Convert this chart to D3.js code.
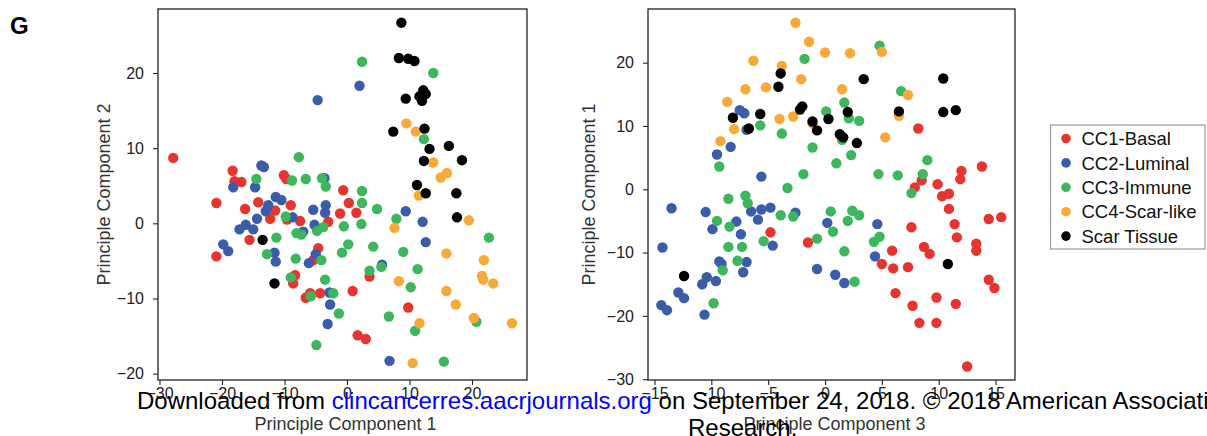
<!DOCTYPE html>
<html>
<head>
<meta charset="utf-8">
<script src="https://cdn.jsdelivr.net/npm/d3@7"></script>
<style>
    body { margin: 0; background: #fff; }
    svg text { font-family: "Liberation Sans", Arial, sans-serif; }
</style>
</head>
<body>
<div id="chart"></div>
<script>
// Groups (legend order) and colours
const groups = ["CC1-Basal", "CC2-Luminal", "CC3-Immune", "CC4-Scar-like", "Scar Tissue"];
const groupColors = ["#e8342f", "#3a5ca9", "#3db65d", "#f8aa38", "#000000"];

// Panel 1: Principle Component 1 (x) vs Principle Component 2 (y)
const basalPc12 = [[-27.8,8.7],[-18.3,7.0],[-18.0,5.6],[-16.9,5.5],[-20.9,2.7],[-16.3,1.9],[-14.2,2.8],[-10.1,6.4],[-9.7,5.9],[-11.5,1.7],[-12.3,0.6],[-9.0,2.4],[-9.6,0.5],[-7.5,0.3],[-0.6,4.4],[0.3,2.7],[-1.1,1.3],[1.5,1.4],[-3.0,0.2],[-15.6,-2.2],[-20.9,-4.4],[-4.6,-3.3],[-5.4,-4.9],[-8.3,-6.9],[-8.6,-8.0],[3.6,-7.1],[-6.6,-9.9],[-5.9,-9.3],[-4.3,-9.3],[0.9,-9.0],[9.8,-11.2],[1.7,-14.9],[3.0,-15.4]];
const luminalPc12 = [[-4.7,16.4],[2.0,18.3],[-13.7,7.7],[-13.3,7.5],[-18.2,4.8],[-14.7,4.8],[-11.4,3.5],[-10.5,3.1],[-12.6,2.4],[-13.0,1.6],[-14.4,0.6],[-16.2,-0.2],[-17.2,-0.8],[-15.0,-0.8],[-19.8,-2.8],[-19.0,-3.7],[-11.6,-3.9],[-11.4,-5.1],[-8.7,0.8],[-5.4,1.8],[-3.4,2.4],[-3.5,1.4],[-3.6,6.0],[-5.2,-0.2],[-7.0,-1.1],[-5.0,-4.1],[-6.1,-5.3],[-2.8,-9.2],[-2.7,-10.8],[-3.1,-13.4],[5.6,-5.5],[9.4,1.6],[12.1,0.2],[12.6,-2.5],[6.8,-18.3]];
const immunePc12 = [[2.4,21.5],[13.8,20.0],[12.3,11.2],[-7.7,8.8],[-14.5,5.9],[-8.8,5.7],[-6.6,5.9],[-4.0,6.0],[-3.4,4.9],[2.4,4.3],[2.4,2.7],[4.8,1.9],[7.9,0.6],[-0.5,-0.4],[2.3,-0.1],[-3.8,-0.5],[-4.8,-1.0],[-8.1,-1.3],[-7.3,-1.5],[-9.8,0.9],[-11.3,-1.9],[-12.8,-4.1],[0.2,-2.8],[4.2,-3.1],[-0.8,-3.9],[9.0,-3.8],[-8.2,-4.7],[-4.1,-4.9],[5.5,-5.8],[11.3,-6.1],[3.6,-6.3],[-9.0,-7.2],[-3.5,-7.5],[10.2,-8.5],[-5.8,-9.7],[-2.2,-9.3],[-1.3,-12.0],[6.7,-12.4],[10.9,-14.3],[20.7,-13.1],[22.7,-1.9],[-4.9,-16.2],[15.5,-18.4]];
const scarLikePc12 = [[9.5,13.3],[11.0,12.2],[13.8,8.1],[15.0,6.1],[16.0,6.7],[11.5,3.7],[19.5,0.4],[7.6,-0.6],[15.9,-4.0],[21.9,-4.9],[21.6,-7.0],[21.8,-7.5],[23.4,-8.0],[8.3,-7.7],[15.9,-9.0],[17.4,-10.8],[20.3,-12.6],[11.6,-13.3],[26.4,-13.3],[10.5,-18.6]];
const scarPc12 = [[8.7,26.7],[8.3,22.0],[9.8,21.9],[10.8,21.6],[9.4,16.6],[11.6,16.9],[12.2,17.7],[12.6,17.2],[12.0,16.3],[7.4,12.2],[12.4,12.6],[13.2,9.9],[16.3,10.3],[12.3,8.3],[18.4,8.4],[11.2,5.1],[12.6,4.0],[17.5,4.0],[17.6,0.8],[-13.5,-2.2],[-11.6,-8.0]];

// Panel 2: Principle Component 3 (x) vs Principle Component 1 (y)
const basalPc31 = [[8.2,9.6],[13.8,3.6],[12.0,2.9],[11.9,1.6],[8.5,1.4],[7.9,0.3],[9.9,0.8],[10.3,-1.1],[10.9,-0.7],[10.9,-3.1],[11.4,-5.5],[11.6,-7.6],[14.4,-4.7],[15.5,-4.4],[7.6,-6.0],[-4.8,-6.8],[-1.5,-8.4],[5.9,-9.7],[8.7,-9.1],[9.2,-10.2],[13.3,-8.6],[13.3,-9.7],[5.0,-11.8],[6.0,-12.5],[7.3,-12.3],[6.2,-16.4],[7.7,-18.4],[8.3,-21.1],[9.8,-21.1],[9.8,-17.1],[11.5,-18.1],[14.4,-14.3],[14.9,-15.6],[12.5,-28.0]];
const luminalPc31 = [[-13.5,-3.0],[-14.3,-9.2],[-14.4,-18.3],[-13.9,-19.1],[-12.9,-16.3],[-12.4,-17.2],[-10.5,-3.6],[-9.9,-6.3],[-10.8,-15.0],[-10.4,-13.9],[-9.6,-14.5],[-10.6,-19.8],[-9.5,5.5],[-8.3,6.7],[-9.3,-11.4],[-9.1,-11.8],[-7.8,-5.1],[-7.4,-7.1],[-7.2,-13.1],[-6.9,-11.5],[-7.5,12.5],[-7.1,12.0],[-6.9,9.4],[-6.5,-3.5],[-5.9,-4.8],[-5.6,-3.2],[-5.6,2.0],[-4.8,-2.9],[-4.6,-8.9],[-2.6,-3.7],[0.2,-5.3],[-0.7,-12.6],[0.9,-13.5],[1.7,-14.8],[4.6,-5.5],[4.4,-10.6]];
const immunePc31 = [[4.8,22.7],[-1.8,20.6],[6.7,15.5],[1.7,13.7],[0.1,12.3],[2.1,11.2],[3.0,10.8],[-5.7,10.1],[-3.8,8.8],[-1.1,6.6],[1.5,7.8],[2.3,5.4],[1.0,4.1],[9.0,4.6],[-9.3,3.6],[-1.9,2.4],[4.7,2.4],[6.4,2.2],[8.6,2.4],[7.6,-0.6],[-3.3,0.2],[-8.5,-1.5],[-7.0,-1.0],[-6.8,-2.2],[-3.9,-4.1],[-2.8,-4.3],[0.5,-3.5],[2.4,-3.4],[3.0,-4.1],[-9.5,-5.0],[-8.4,-5.9],[2.0,-5.0],[0.7,-6.7],[-8.5,-9.1],[-7.3,-9.1],[-5.4,-8.2],[-0.7,-7.8],[4.3,-8.3],[4.8,-7.5],[-7.7,-11.3],[-9.0,-12.8],[1.7,-9.8],[2.6,-14.6],[-9.8,-18.0]];
const scarLikePc31 = [[-2.6,26.3],[-1.4,23.3],[-6.3,20.3],[-3.8,19.5],[0.0,21.6],[2.2,21.5],[5.0,21.7],[-7.0,15.8],[-5.2,16.1],[-2.1,17.4],[1.5,15.8],[-8.6,13.8],[7.3,14.9],[-8.0,9.5],[-9.2,7.6],[-4.0,11.1],[-2.8,11.5],[-1.1,10.4],[6.5,11.6],[5.3,8.2]];
const scarPc31 = [[-12.4,-13.7],[-8.1,11.3],[-6.7,9.6],[-5.7,11.9],[-4.1,16.2],[-3.9,18.3],[-2.2,12.6],[-2.0,13.1],[-1.1,10.7],[-0.7,9.3],[0.3,11.1],[1.3,8.7],[1.6,8.2],[2.0,12.2],[2.8,7.3],[3.4,17.4],[6.5,12.3],[10.4,17.5],[10.4,12.2],[11.5,12.5],[10.8,-11.8]];

// Tick values
const pc1Ticks = [-30, -20, -10, 0, 10, 20];
const pc2Ticks = [-20, -10, 0, 10, 20];
const pc3Ticks = [-15, -10, -5, 0, 5, 10, 15];
const pc1TicksRight = [-30, -20, -10, 0, 10, 20];

class ScatterVis {
    constructor(svg, config, series) {
        this.svg = svg;
        this.config = config;
        this.series = series;

        this.initVis();
    }

    initVis() {
        let vis = this;
        let c = vis.config;

        vis.g = vis.svg.append("g");

        //Scales
        vis.x = d3.scaleLinear().domain(c.xDomain).range([c.left, c.right]);
        vis.y = d3.scaleLinear().domain(c.yDomain).range([c.bottom, c.top]);

        //Axes (no domain line, the frame is drawn separately)
        vis.g.append("g")
            .attr("class", "x-axis")
            .attr("transform", `translate(0,${c.bottom})`)
            .call(d3.axisBottom(vis.x).tickValues(c.xTicks).tickSize(5).tickSizeOuter(0).tickPadding(3));

        vis.g.append("g")
            .attr("class", "y-axis")
            .attr("transform", `translate(${c.left},0)`)
            .call(d3.axisLeft(vis.y).tickValues(c.yTicks).tickSize(5).tickSizeOuter(0).tickPadding(9));

        vis.g.selectAll(".domain").remove();
        vis.g.selectAll(".tick line").attr("stroke", "#222").attr("stroke-width", 1.1);
        vis.g.selectAll(".tick text")
            .attr("fill", "#222")
            .style("font-size", "16px");

        //Frame
        vis.g.append("rect")
            .attr("x", c.left)
            .attr("y", c.top)
            .attr("width", c.right - c.left)
            .attr("height", c.bottom - c.top)
            .attr("fill", "none")
            .attr("stroke", "#222")
            .attr("stroke-width", 1.3);

        //Axis titles
        vis.g.append("text")
            .attr("x", (c.left + c.right) / 2 + 3)
            .attr("y", 430)
            .attr("text-anchor", "middle")
            .attr("fill", "#333")
            .style("font-size", "18px")
            .text(c.xTitle);

        vis.g.append("text")
            .attr("transform", `translate(${c.yTitleX},${(c.top + c.bottom) / 2}) rotate(-90)`)
            .attr("text-anchor", "middle")
            .attr("fill", "#333")
            .style("font-size", "18px")
            .text(c.yTitle);

        vis.updateVis();
    }

    updateVis() {
        let vis = this;

        //One layer of dots per group, drawn in legend order
        vis.series.forEach((points, i) => {
            vis.g.append("g")
                .selectAll("circle")
                .data(points)
                .join("circle")
                .attr("cx", d => vis.x(d[0]))
                .attr("cy", d => vis.y(d[1]))
                .attr("r", 5.2)
                .attr("fill", groupColors[i]);
        });
    }
}

const svg = d3.select("#chart").append("svg")
    .attr("width", 1207)
    .attr("height", 436);

svg.append("rect").attr("width", 1207).attr("height", 436).attr("fill", "#fff");

//Panel label
svg.append("text")
    .attr("x", 10)
    .attr("y", 34)
    .style("font-size", "24px")
    .style("font-weight", "bold")
    .text("G");

new ScatterVis(svg, {
    left: 158, right: 527, top: 9, bottom: 380,
    xDomain: [-30.24, 28.8], yDomain: [-20.85, 28.52],
    xTicks: pc1Ticks, yTicks: pc2Ticks,
    xTitle: "Principle Component 1", yTitle: "Principle Component 2", yTitleX: 110
}, [basalPc12, luminalPc12, immunePc12, scarLikePc12, scarPc12]);

new ScatterVis(svg, {
    left: 648, right: 1015, top: 9, bottom: 380,
    xDomain: [-15.57, 16.71], yDomain: [-30.13, 28.48],
    xTicks: pc3Ticks, yTicks: pc1TicksRight,
    xTitle: "Principle Component 3", yTitle: "Principle Component 1", yTitleX: 595
}, [basalPc31, luminalPc31, immunePc31, scarLikePc31, scarPc31]);

//Legend
const legend = svg.append("g").attr("class", "legend");

legend.append("rect")
    .attr("x", 1050.5)
    .attr("y", 125)
    .attr("width", 154.5)
    .attr("height", 124)
    .attr("fill", "#fff")
    .attr("stroke", "#999")
    .attr("stroke-width", 1.2);

const legendRow = legend.selectAll(".legend-row")
    .data(groups)
    .join("g")
    .attr("class", "legend-row")
    .attr("transform", (d, i) => `translate(1066,${138.5 + i * 24.4})`);

legendRow.append("circle")
    .attr("r", 4.8)
    .attr("fill", (d, i) => groupColors[i]);

legendRow.append("text")
    .attr("x", 15.5)
    .attr("dy", "0.36em")
    .style("font-size", "18.5px")
    .attr("fill", "#111")
    .text(d => d);

//Download watermark from the source page
const note = svg.append("text")
    .attr("x", 137)
    .attr("y", 409)
    .style("font-size", "24px")
    .attr("fill", "#000");
note.append("tspan").text("Downloaded from ");
note.append("tspan").attr("fill", "#0000ff").text("clincancerres.aacrjournals.org");
note.append("tspan").text(" on September 24, 2018. \u00a9 2018 American Association for Cancer");

svg.append("text")
    .attr("x", 688)
    .attr("y", 436)
    .style("font-size", "24px")
    .attr("fill", "#000")
    .text("Research.");
</script>
</body>
</html>
